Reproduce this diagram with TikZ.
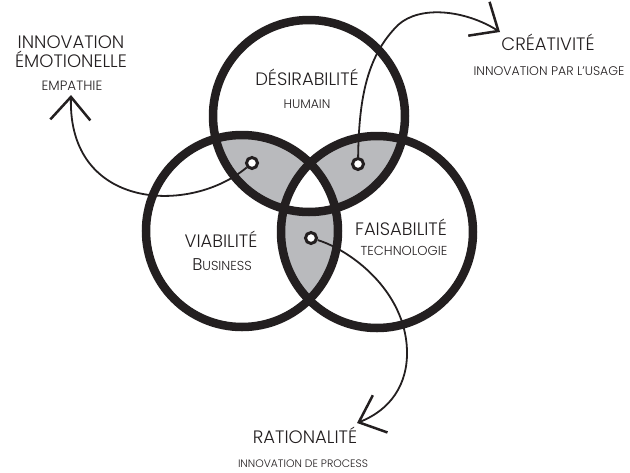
\documentclass[tikz,border=0pt]{standalone}
\usepackage{fontspec}
\setmainfont{Poppins Light}
\usetikzlibrary{arrows.meta}
\definecolor{ink}{HTML}{231F20}
\definecolor{lens}{HTML}{B9BABD}
\begin{document}
\begin{tikzpicture}[x=1pt,y=-1pt,
  ring/.style={draw=ink,line width=8.5pt},
  dot/.style={circle,draw=ink,fill=white,line width=3pt,minimum size=11pt,inner sep=0pt},
  link/.style={draw=ink,line width=1.8pt,-{Straight Barb[length=23pt,width=40pt,line width=2.5pt]}},
  title/.style={font=\fontsize{18}{20}\selectfont,text=ink,anchor=base,inner sep=0pt},
  sub/.style={font=\fontsize{12.5}{14}\selectfont,text=ink,anchor=base,inner sep=0pt}]
\useasboundingbox (0,0) rectangle (630,472);
\coordinate (T) at (309,116);
\coordinate (L) at (242,231);
\coordinate (R) at (377,232);
% pairwise lenses
\begin{scope}
  \clip (T) circle[radius=96pt];
  \fill[lens] (L) circle[radius=96pt];
  \fill[lens] (R) circle[radius=96pt];
\end{scope}
\begin{scope}
  \clip (L) circle[radius=96pt];
  \fill[lens] (R) circle[radius=96pt];
\end{scope}
% triple intersection stays white
\begin{scope}
  \clip (T) circle[radius=96pt];
  \clip (L) circle[radius=96pt];
  \fill[white] (R) circle[radius=96pt];
\end{scope}
\draw[ring] (T) circle[radius=96pt];
\draw[ring] (L) circle[radius=96pt];
\draw[ring] (R) circle[radius=96pt];
% labels
\node[title] (des) at (307,85) {DÉSIRABILITÉ};
\node[sub] (hum) at (307,108) {HUMAIN};
\node[title] (via) at (221,247) {VIABILITÉ};
\node[anchor=base,inner sep=0pt,text=ink] (bus) at (222,270) {\fontsize{17}{18}\selectfont B\fontsize{13}{14}\selectfont USINESS};
\node[title] (fai) at (401,235) {FAISABILITÉ};
\node[sub,font=\fontsize{13}{14}\selectfont] (tec) at (404,255) {TECHNOLOGIE};
\node[title] (inn) at (71,48) {INNOVATION};
\node[title] (emo) at (71,67) {ÉMOTIONELLE};
\node[sub,font=\fontsize{13.5}{15}\selectfont] (emp) at (72,90) {EMPATHIE};
\node[title] (cre) at (548,50) {CRÉATIVITÉ};
\node[sub] (usa) at (549,75) {INNOVATION PAR L’USAGE};
\node[title] (rat) at (305,443) {RATIONALITÉ};
\node[sub,font=\fontsize{10.8}{12}\selectfont] (pro) at (303,467) {INNOVATION DE PROCESS};
% dots
\node[dot] (dTL) at (252,163) {};
\node[dot] (dTR) at (358,164) {};
\node[dot] (dLR) at (311,238) {};
% arrow ends
\coordinate (aE) at (71,95);
\coordinate (aC) at (500,32);
\coordinate (aR) at (357,423);
\coordinate (mC) at (398,25);
\coordinate (mR) at (407,350);
% connectors
\draw[link] (dTL) .. controls (190,215) and (68,210) .. (aE);
\draw[link] (dTR) .. controls (359,95) and (368,55) .. (mC)
                  .. controls (420,5) and (465,10) .. (aC);
\draw[link] (dLR) .. controls (350,250) and (405,290) .. (mR)
                  .. controls (408,385) and (390,410) .. (aR);
\end{tikzpicture}
\end{document}
